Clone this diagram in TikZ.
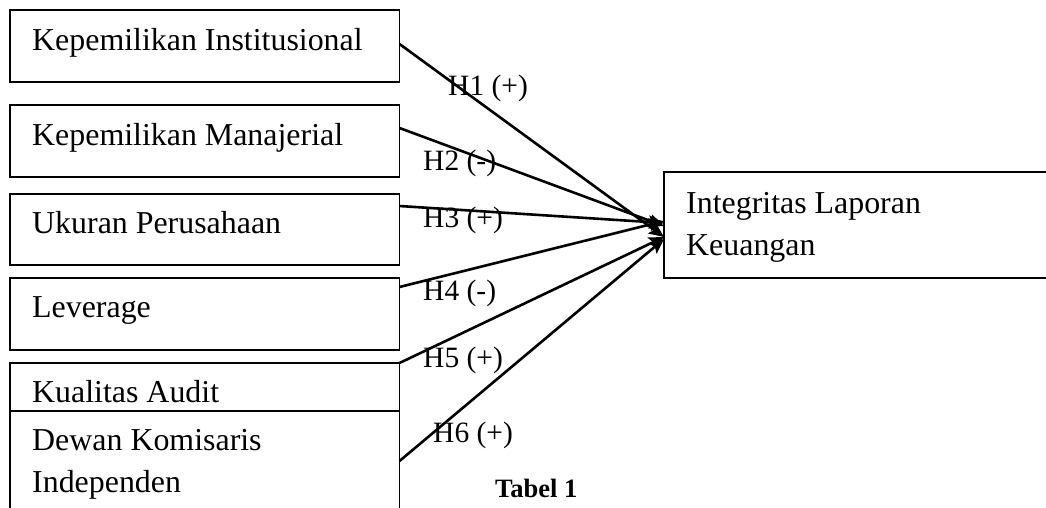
\documentclass[tikz,border=0pt]{standalone}
\usepackage{fontspec}
\setmainfont{Liberation Serif}
\usetikzlibrary{arrows.meta}
\begin{document}
\begin{tikzpicture}[x=1pt,y=-1pt,
  box/.style={draw,line width=1.8pt,inner sep=0pt,outer sep=0pt,anchor=north west,minimum width=389.5pt},
  txt/.style={anchor=base west,inner sep=0pt,font=\fontsize{31.9}{38}\selectfont},
  lab/.style={anchor=base west,inner sep=0pt,font=\fontsize{29.5}{35}\selectfont},
  conn/.style={line width=2.6pt,-{Stealth[length=15pt,width=13pt,inset=3pt]}}]
\useasboundingbox (0,0) rectangle (1046,507);
\clip (0,0) rectangle (1046,507);
\fill[white] (0,0) rectangle (1046,507);
% boxes
\node[box,minimum height=72pt] (b1) at (10,10) {};
\node[box,minimum height=72pt] (b2) at (10,105) {};
\node[box,minimum height=71pt] (b3) at (10,194) {};
\node[box,minimum height=72pt] (b4) at (10,278) {};
\node[box,minimum height=48pt] (b5) at (10,363) {};
\node[box,minimum height=130pt] (b6) at (10,411) {};
\node[box,minimum width=420pt,minimum height=106pt] (r) at (664,172) {};
% box texts
\node[txt] (t1) at (32,50) {Kepemilikan Institusional};
\node[txt] (t2) at (32,145) {Kepemilikan Manajerial};
\node[txt] (t3) at (32,233) {Ukuran Perusahaan};
\node[txt] (t4) at (32,317) {Leverage};
\node[txt] (t5) at (32,402) {Kualitas Audit};
\node[txt] (t6a) at (32,450) {Dewan Komisaris};
\node[txt] (t6b) at (32,492) {Independen};
\node[txt] (tr1) at (686,213) {Integritas Laporan};
\node[txt] (tr2) at (686,255) {Keuangan};
% connectors
\draw[conn] ([yshift=-34pt]b1.north east) -- ([yshift=-65pt]r.north west);
\draw[conn] ([yshift=-23pt]b2.north east) -- ([yshift=-54pt]r.north west);
\draw[conn] ([yshift=-12pt]b3.north east) -- ([yshift=-51pt]r.north west);
\draw[conn] ([yshift=-9pt]b4.north east) -- ([yshift=-49pt]r.north west);
\draw[conn] (b5.north east) -- ([yshift=-65pt]r.north west);
\draw[conn] ([yshift=-50pt]b6.north east) -- ([yshift=-67pt]r.north west);
% labels
\node[lab] (h1) at (448,95) {H1 (+)};
\node[lab] (h2) at (423,170) {H2 (-)};
\node[lab] (h3) at (423,227) {H3 (+)};
\node[lab] (h4) at (423,300) {H4 (-)};
\node[lab] (h5) at (423,367) {H5 (+)};
\node[lab] (h6) at (433,442) {H6 (+)};
\node[anchor=base west,inner sep=0pt,font=\fontsize{26.5}{32}\selectfont\bfseries] (tab) at (495,497) {Tabel 1};
\end{tikzpicture}
\end{document}
